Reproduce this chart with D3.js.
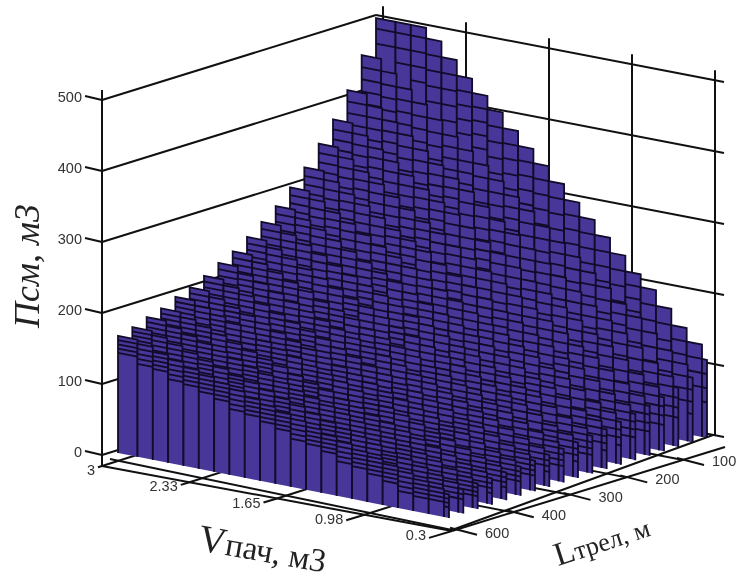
<!DOCTYPE html>
<html>
<head>
<meta charset="utf-8">
<script src="https://cdn.jsdelivr.net/npm/d3@7"></script>
<style>
html,body{margin:0;padding:0;background:#fff;}
svg{display:block;filter:blur(.4px);}
.wall{stroke:#111;stroke-width:2;fill:none;}
.tk{font-family:"Liberation Sans",sans-serif;font-size:14.5px;fill:#333;}
.ttl{font-family:"Liberation Serif",serif;fill:#222;}
</style>
</head>
<body>
<svg id="chart" width="738" height="578"></svg>
<script>
const zTicks=[0,100,200,300,400,500];
const vTicks=['3','2.33','1.65','0.98','0.3'];
const lTicks=['600','400','300','200','100'];
// Псм, read row by row from back (L=100) to front (L=600), V=3 -> V=0.3
const rowsPsm=[
[548,527,506,485,463,441,421,402,380,359,339,318,296,276,255,234,212,194,172,149,130,110],
[454,437,419,402,384,365,349,333,315,297,281,263,245,229,211,194,176,161,143,123,108,91],
[411,395,379,364,347,331,316,302,285,269,254,238,222,207,191,175,159,145,129,112,97,83],
[376,362,347,333,318,303,289,276,261,246,233,218,203,190,175,161,146,133,118,102,89,76],
[348,335,321,308,294,280,267,255,241,228,215,202,188,175,162,149,135,123,109,95,82,70],
[321,309,296,284,271,258,247,236,222,210,199,186,173,162,149,137,124,114,101,87,76,65],
[299,288,276,265,253,241,230,219,207,196,185,173,161,151,139,128,116,106,94,81,71,60],
[279,268,258,247,236,225,214,205,193,183,173,162,151,141,130,119,108,99,88,76,66,56],
[263,253,243,233,222,212,202,193,182,172,163,153,142,133,122,112,102,93,83,72,62,53],
[248,239,229,219,210,200,190,182,172,162,154,144,134,125,115,106,96,88,78,67,59,50],
[234,225,216,207,198,188,180,172,162,153,145,136,126,118,109,100,91,83,73,64,55,47],
[224,215,207,198,189,180,172,164,155,147,139,130,121,113,104,96,87,79,70,61,53,45],
[212,204,196,188,179,171,163,156,147,139,131,123,114,107,99,91,82,75,67,58,50,43],
[202,194,186,179,171,163,155,148,140,132,125,117,109,102,94,86,78,72,63,55,48,41],
[195,188,180,173,165,157,150,143,135,128,121,113,105,98,91,83,75,69,61,53,46,39],
[185,178,171,164,156,149,142,136,128,121,115,107,100,93,86,79,72,65,58,50,44,37],
[179,172,165,158,151,144,137,131,124,117,111,104,97,90,83,76,69,63,56,49,42,36],
[171,165,158,151,144,138,131,126,119,112,106,99,92,86,80,73,66,61,54,47,41,34],
[165,159,152,146,139,133,127,121,114,108,102,96,89,83,77,70,64,58,52,45,39,33]
];

const svg=d3.select('#chart');
const rowX=d3.scaleLinear().domain([0,18]).range([376,118]);
const rowY=d3.scaleLinear().domain([0,18]).range([373,453]);
const colX=d3.scaleLinear().domain([0,1,21,22]).range([0,19.5,326,331]);
const colY=d3.scaleLinear().domain([0,1,21,22]).range([0,3.8,63.9,65]);
const zPx=d3.scaleLinear().domain([0,500]).range([0,355]).clamp(true);
const pt=(r,c,z)=>[rowX(r)+colX(c),rowY(r)+colY(c)-zPx(z)];

// walls
const gWall=svg.append('g');
const seg=(g,a,b,cls='wall')=>g.append('line').attr('class',cls)
  .attr('x1',a[0]).attr('y1',a[1]).attr('x2',b[0]).attr('y2',b[1]);
const wallLeftX=102,backX=376,wallRightX=724;
const zLeft=d3.scaleLinear().domain([0,500]).range([455,100]);
const rise=85, fall=67;
zTicks.forEach(z=>{
  const y=zLeft(z);
  seg(gWall,[85,y-4],[wallLeftX,y]);
  gWall.append('text').attr('class','tk').attr('x',82).attr('y',y-3).attr('text-anchor','end')
    .attr('dominant-baseline','central').text(z);
  seg(gWall,[wallLeftX,y],[backX,y-rise]);
  seg(gWall,[backX,y-rise],[wallRightX,y-rise+fall]);
});
const vWall=d3.scalePoint().domain(vTicks).range([383,715]);
const wallTop=d3.scaleLinear().domain([376,724]).range([15,82]);
vTicks.forEach(v=>{
  const x=vWall(v);
  seg(gWall,[x,wallTop(x)-10],[x,wallTop(x)+355]);
});
seg(gWall,[wallLeftX,90],[wallLeftX,466]);

// floor axes
const vAxis=d3.scalePoint().domain(vTicks).range([102,452]);
const vAxisY=d3.scalePoint().domain(vTicks).range([466,531]);
const lAxis=d3.scalePoint().domain(lTicks).range([456,683]);
const lAxisY=d3.scaleLinear().domain([452,725]).range([531,447]);
const gFloor=svg.append('g');
vTicks.slice(0,-1).forEach(v=>{
  const x=vAxis(v),y=vAxisY(v);
  seg(gFloor,[x,y],[x+262,y-83]);
});
lTicks.slice(1).forEach(l=>{
  const x=lAxis(l),y=lAxisY(x);
  seg(gFloor,[x,y],[x-340,y-66]);
});

// bars, back rows first so the front rows hide them
const cells=rowsPsm.flatMap((vals,r)=>vals.map((v,c)=>({
  r,c,v,drop:c<vals.length-1?vals[c]-vals[c+1]:vals[c-1]-vals[c]
})));
const bar=svg.append('g').selectAll('g').data(cells).join('g');
bar.append('path')
  .attr('d',d=>{
    const a=pt(d.r,d.c,0),b=pt(d.r,d.c,d.v),e=pt(d.r,d.c+1,d.v),f=pt(d.r,d.c+1,0);
    return `M${a}L${b}L${e}L${f}Z`;
  })
  .attr('fill','#483799').attr('stroke','none');
bar.append('path')
  .attr('d',d=>{
    const a=pt(d.r,d.c,0),b=pt(d.r,d.c,d.v),e=pt(d.r,d.c+1,d.v),f=pt(d.r,d.c+1,0);
    return `M${a}L${b}L${e}L${f}`;
  })
  .attr('fill','none').attr('stroke','#120b2a').attr('stroke-width',1.8);
// band lines on each bar face, one column drop apart
bar.selectAll('line').data(d=>d3.range(1,5).map(k=>({...d,lv:d.v-k*d.drop})).filter(o=>o.lv<500&&o.lv>o.v*0.4))
  .join('line')
  .attr('x1',d=>pt(d.r,d.c,d.lv)[0]).attr('y1',d=>pt(d.r,d.c,d.lv)[1])
  .attr('x2',d=>pt(d.r,d.c+1,d.lv)[0]).attr('y2',d=>pt(d.r,d.c+1,d.lv)[1])
  .attr('stroke','#120b2a').attr('stroke-width',1.8);

// front axes and labels
const gAxis=svg.append('g');
const vLabX=d3.scalePoint().domain(vTicks).range([95,426]);
const vLabY=d3.scalePoint().domain(vTicks).range([470,535]);
seg(gAxis,[102,466],[452,531]);
seg(gAxis,[110,459],[452,530]);
seg(gAxis,[452,531],[725,447]);
seg(gAxis,[452,530],[713,435]);
vTicks.forEach(v=>{
  const x=vAxis(v),y=vAxisY(v),x0=vLabX(v)+3;
  seg(gAxis,[x0,y+(x-x0)*0.3],[x,y]);
});
lTicks.forEach(l=>{
  const x=lAxis(l),y=lAxisY(x);
  seg(gAxis,[x-6,y-2],[x+21,y+5]);
});
gAxis.selectAll('text.v').data(vTicks).join('text').attr('class','tk v')
  .attr('x',d=>vLabX(d)).attr('y',d=>vLabY(d)).attr('text-anchor','end').attr('dominant-baseline','central').text(d=>d);
const lLabX=d3.scalePoint().domain(lTicks).range([485,712]);
const lLabY=d3.scalePoint().domain(lTicks).range([533,461]);
gAxis.selectAll('text.l').data(lTicks).join('text').attr('class','tk l')
  .attr('x',d=>lLabX(d)).attr('y',d=>lLabY(d)).attr('dominant-baseline','central').text(d=>d);

// titles
svg.append('text').attr('class','ttl').attr('transform','translate(39,328) rotate(-90)')
  .attr('font-size',36).attr('font-style','italic').text('Псм, м3');
const tv=svg.append('text').attr('class','ttl').attr('transform','translate(197,550) rotate(10)');
tv.append('tspan').attr('font-size',38).text('V');
tv.append('tspan').attr('font-size',33).text('пач, м3');
const tl=svg.append('text').attr('class','ttl').attr('transform','translate(558,566) rotate(-18)');
tl.append('tspan').attr('font-size',33).text('L');
tl.append('tspan').attr('font-size',26).text('трел, м');
</script>
</body>
</html>
